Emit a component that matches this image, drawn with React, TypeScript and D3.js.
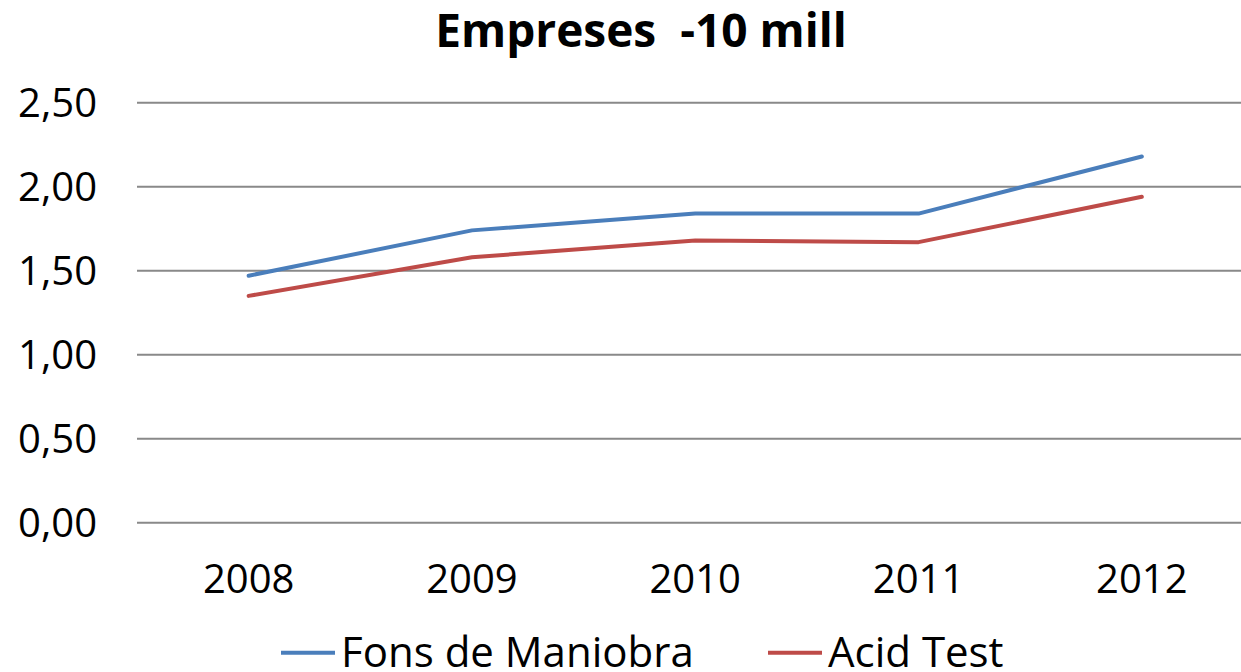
import * as d3 from "d3";

// chart data
const years = ["2008", "2009", "2010", "2011", "2012"];
const fonsManiobra = [1.47, 1.74, 1.84, 1.84, 2.18];
const acidTest = [1.35, 1.58, 1.68, 1.67, 1.94];
const yTicks = [0, 0.5, 1, 1.5, 2, 2.5];
const seriesNames = ["Fons de Maniobra", "Acid Test"];
const seriesColors = ["#4A7EBB", "#BE4B48"];

const width = 1241;
const height = 672;
const font = "'Open Sans', 'Noto Sans', sans-serif";

export default function App() {
  const x = d3.scaleBand<string>().domain(years).range([137, 137 + 5 * 223.3]);
  const y = d3.scaleLinear().domain([0, 2.5]).range([522.7, 102.7]);
  const cx = (yr: string) => (x(yr) ?? 0) + x.bandwidth() / 2;
  const fmt = (v: number) => d3.format(".2f")(v).replace(".", ",");

  const line = d3
    .line<number>()
    .x((_, i) => cx(years[i]))
    .y((d) => y(d));

  const series = [fonsManiobra, acidTest];
  const legendX = [281, 768];

  return (
    <div style={{ position: "absolute", left: 0, top: 0 }}>
      <svg width={width} height={height} style={{ display: "block", background: "#fff" }} fontFamily={font}>
        <text x={641} y={47} textAnchor="middle" fontSize={46} fontWeight="bold" fill="#000" style={{ whiteSpace: "pre" }}>
          {"Empreses  -10 mill"}
        </text>

        {/* gridlines + y labels */}
        {yTicks.map((t) => (
          <g key={t}>
            <line x1={x.range()[0]} x2={x.range()[1]} y1={y(t)} y2={y(t)} stroke="#898989" strokeWidth={2} />
            <text x={97} y={y(t) + 14} textAnchor="end" fontSize={40} fill="#000">
              {fmt(t)}
            </text>
          </g>
        ))}

        {/* x labels */}
        {years.map((yr) => (
          <text key={yr} x={cx(yr)} y={593} textAnchor="middle" fontSize={40} fill="#000">
            {yr}
          </text>
        ))}

        {/* lines */}
        {series.map((s, i) => (
          <path key={i} d={line(s) ?? ""} fill="none" stroke={seriesColors[i]} strokeWidth={4} strokeLinejoin="round" strokeLinecap="round" />
        ))}

        {/* legend */}
        {seriesNames.map((name, i) => (
          <g key={name}>
            <line x1={legendX[i]} x2={legendX[i] + 54} y1={652.7} y2={652.7} stroke={seriesColors[i]} strokeWidth={4} />
            <text x={legendX[i] + 60} y={667} fontSize={42} fill="#000">
              {name}
            </text>
          </g>
        ))}
      </svg>
    </div>
  );
}
